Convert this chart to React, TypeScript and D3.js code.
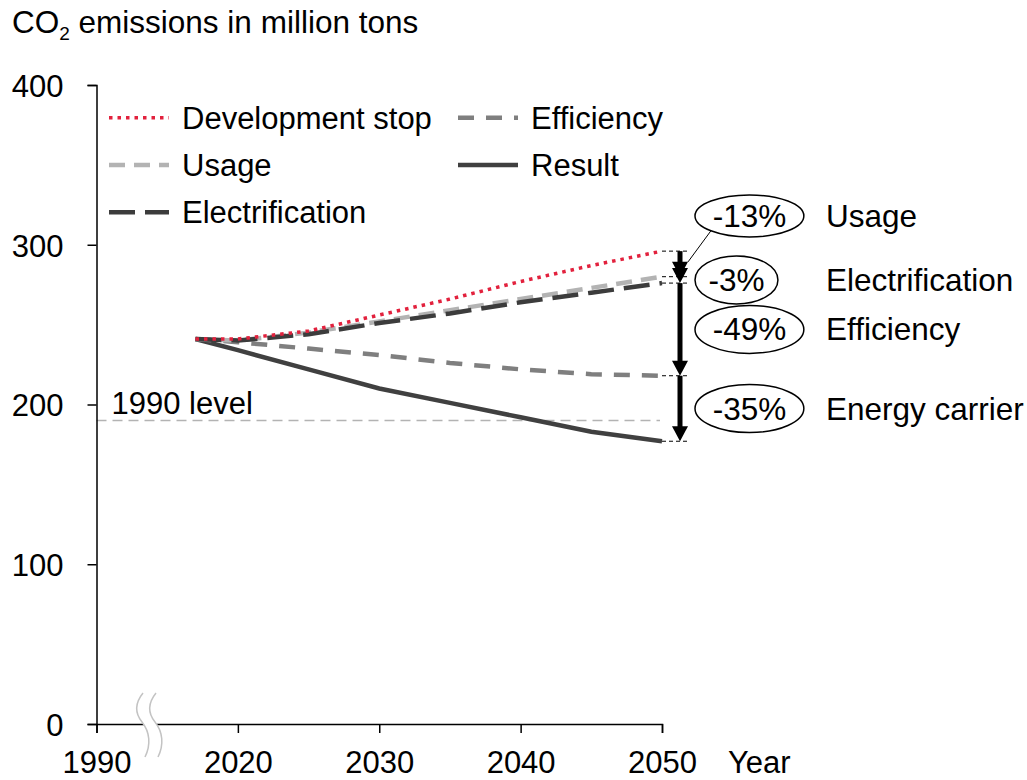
import React, { useEffect, useRef } from "react"
import * as d3 from "d3"

const years = [2017, 2020, 2025, 2030, 2035, 2040, 2045, 2050]
const developmentStop = [241, 241, 246, 256, 266, 277, 287, 296]
const usage = [241, 240, 245, 252, 259, 266, 273, 280]
const electrification = [241, 240, 244, 251, 257, 264, 270, 276]
const efficiency = [241, 239, 235, 231, 226, 222, 219, 218]
const result = [241, 234, 222, 210, 201, 192, 183, 177]

const yTicks = [0, 100, 200, 300, 400]
const xTicks = [1990, 2020, 2030, 2040, 2050]
const level1990 = 190

const legendOrder = ["Development stop", "Efficiency", "Usage", "Result", "Electrification"]
const stepLabels = ["Usage", "Electrification", "Efficiency", "Energy carrier"]
const stepPercents = ["-13%", "-3%", "-49%", "-35%"]

const FONT = "'Liberation Sans', Arial, Helvetica, sans-serif"

export default function App() {
  const ref = useRef<SVGSVGElement>(null)

  useEffect(() => {
    const svg = d3.select(ref.current)
    svg.selectAll("*").remove()

    // axis break: 1990 sits where 2010 would be
    const x = d3.scaleLinear().domain([1990, 2010, 2050]).range([96.5, 96.5, 662])
    const y = d3.scaleLinear().domain([0, 400]).range([724, 85])

    const series = [
      { name: "Result", values: result, color: "#404040", width: 4.5, dash: null },
      { name: "Efficiency", values: efficiency, color: "#7f7f7f", width: 4.5, dash: "16 12" },
      { name: "Usage", values: usage, color: "#b3b3b3", width: 4.5, dash: "16 9" },
      { name: "Electrification", values: electrification, color: "#3c3c3c", width: 4.5, dash: "26 10" },
      { name: "Development stop", values: developmentStop, color: "#e2213d", width: 3.5, dash: "3.5 5" },
    ]

    // title
    const title = svg.append("text").attr("x", 12).attr("y", 33).attr("font-size", 31.5)
    title.append("tspan").text("CO")
    title.append("tspan").attr("font-size", 19).attr("dy", 7).text("2")
    title.append("tspan").attr("dy", -7).text(" emissions in million tons")

    // 1990 level
    svg
      .append("line")
      .attr("x1", x(2010))
      .attr("x2", x(2050) - 2)
      .attr("y1", y(level1990))
      .attr("y2", y(level1990))
      .attr("stroke", "#b3b3b3")
      .attr("stroke-width", 1.5)
      .attr("stroke-dasharray", "10 6")
    svg
      .append("text")
      .attr("x", x(2010) + 15)
      .attr("y", y(level1990) - 6.5)
      .attr("font-size", 31)
      .text("1990 level")

    // axes
    const yAxis = svg
      .append("g")
      .attr("transform", `translate(${x(1990)},0)`)
      .call(d3.axisLeft(y).tickValues(yTicks).tickSize(9).tickPadding(24))
    const xAxis = svg
      .append("g")
      .attr("transform", `translate(0,${y(0)})`)
      .call(d3.axisBottom(x).tickValues(xTicks).tickFormat(d3.format("d")).tickSize(9).tickPadding(18))
    ;[yAxis, xAxis].forEach((g) => {
      g.attr("font-size", 31).attr("font-family", FONT)
      g.selectAll("path, line").attr("stroke", "#000").attr("stroke-width", 1.5)
      g.selectAll("text").attr("fill", "#000")
    })
    yAxis.selectAll("text").attr("dy", "0.37em")
    svg
      .append("text")
      .attr("x", x(2050) + 66)
      .attr("y", y(0) + 9 + 18)
      .attr("dy", "0.71em")
      .attr("font-size", 31)
      .text("Year")

    // break symbol on the x axis
    const bx = x(1990) + 46.5
    const by = y(0)
    const wave = (dx: number) =>
      `M${bx + dx},${by - 31} C${bx + dx - 8},${by - 21} ${bx + dx - 9},${by - 12} ${bx + dx - 1},${by - 2} S${bx + dx + 8},${by + 21} ${bx + dx + 2},${by + 33}`
    const waveBack = (dx: number) =>
      `L${bx + dx + 2},${by + 33} C${bx + dx + 8},${by + 21} ${bx + dx + 7},${by + 8} ${bx + dx - 1},${by - 2} S${bx + dx - 8},${by - 21} ${bx + dx},${by - 31}Z`
    svg.append("path").attr("d", wave(0) + waveBack(13)).attr("fill", "#fff").attr("stroke", "none")
    ;[0, 13].forEach((dx) => {
      svg.append("path").attr("d", wave(dx)).attr("fill", "none").attr("stroke", "#c3c3c3").attr("stroke-width", 1.5)
    })

    // lines
    const line = d3
      .line<number>()
      .x((_, i) => x(years[i]))
      .y((d) => y(d))
    series.forEach((s) => {
      svg
        .append("path")
        .attr("d", line(s.values))
        .attr("fill", "none")
        .attr("stroke", s.color)
        .attr("stroke-width", s.width)
        .attr("stroke-dasharray", s.dash)
    })

    // legend
    legendOrder.forEach((name, i) => {
      const s = series.find((d) => d.name === name)!
      const lx = [109, 458][i % 2]
      const ly = 117.7 + Math.floor(i / 2) * 47.3
      svg
        .append("line")
        .attr("x1", lx)
        .attr("x2", lx + 60)
        .attr("y1", ly)
        .attr("y2", ly)
        .attr("stroke", s.color)
        .attr("stroke-width", s.width)
        .attr("stroke-dasharray", s.dash)
      svg
        .append("text")
        .attr("x", lx + 73)
        .attr("y", ly + 11)
        .attr("font-size", 31)
        .text(name)
    })

    // waterfall arrows at 2050
    const ends = [developmentStop, usage, electrification, efficiency, result].map((v) => v[v.length - 1])
    const ax = x(2050) + 18
    ends.forEach((v) => {
      svg
        .append("line")
        .attr("x1", x(2050))
        .attr("x2", x(2050) + 28)
        .attr("y1", y(v))
        .attr("y2", y(v))
        .attr("stroke", "#000")
        .attr("stroke-width", 1)
        .attr("stroke-dasharray", "4 3")
    })
    const headH = 15
    const headW = 8
    stepLabels.forEach((label, i) => {
      const y0 = y(ends[i])
      const y1 = y(ends[i + 1])
      if (y1 - headH > y0) {
        svg
          .append("line")
          .attr("x1", ax)
          .attr("x2", ax)
          .attr("y1", y0)
          .attr("y2", y1 - headH + 1)
          .attr("stroke", "#000")
          .attr("stroke-width", 5)
      }
      svg
        .append("path")
        .attr("d", `M${ax - headW},${y1 - headH}L${ax + headW},${y1 - headH}L${ax},${y1}Z`)
        .attr("fill", "#000")

      const cy = y((ends[i] + ends[i + 1]) / 2) + (i === 0 ? -48 : 0)
      const ry = i === 0 ? 21 : 24
      const g = svg.append("g")
      const ell = g.append("ellipse").attr("cy", cy).attr("ry", ry).attr("fill", "#fff").attr("stroke", "#000").attr("stroke-width", 1.5)
      const t = g
        .append("text")
        .attr("y", cy)
        .attr("dy", "0.35em")
        .attr("text-anchor", "middle")
        .attr("font-size", 31.5)
        .text(stepPercents[i])
      const tw = (t.node() as SVGTextElement).getComputedTextLength()
      const rx = tw * 0.74
      const cx = 695 + rx
      ell.attr("cx", cx).attr("rx", rx)
      t.attr("x", cx)
      if (i === 0) {
        const a = (135 * Math.PI) / 180
        svg
          .append("line")
          .attr("x1", cx + rx * Math.cos(a))
          .attr("y1", cy + ry * Math.sin(a))
          .attr("x2", ax + 8)
          .attr("y2", (y0 + y1) / 2 - 2)
          .attr("stroke", "#000")
          .attr("stroke-width", 1)
      }
      svg
        .append("text")
        .attr("x", 826)
        .attr("y", cy)
        .attr("dy", "0.35em")
        .attr("font-size", 31.5)
        .text(label)
    })
  }, [])

  return (
    <svg
      ref={ref}
      width={1027}
      height={780}
      fontFamily={FONT}
      style={{ position: "absolute", left: 0, top: 0, background: "#fff" }}
    />
  )
}
